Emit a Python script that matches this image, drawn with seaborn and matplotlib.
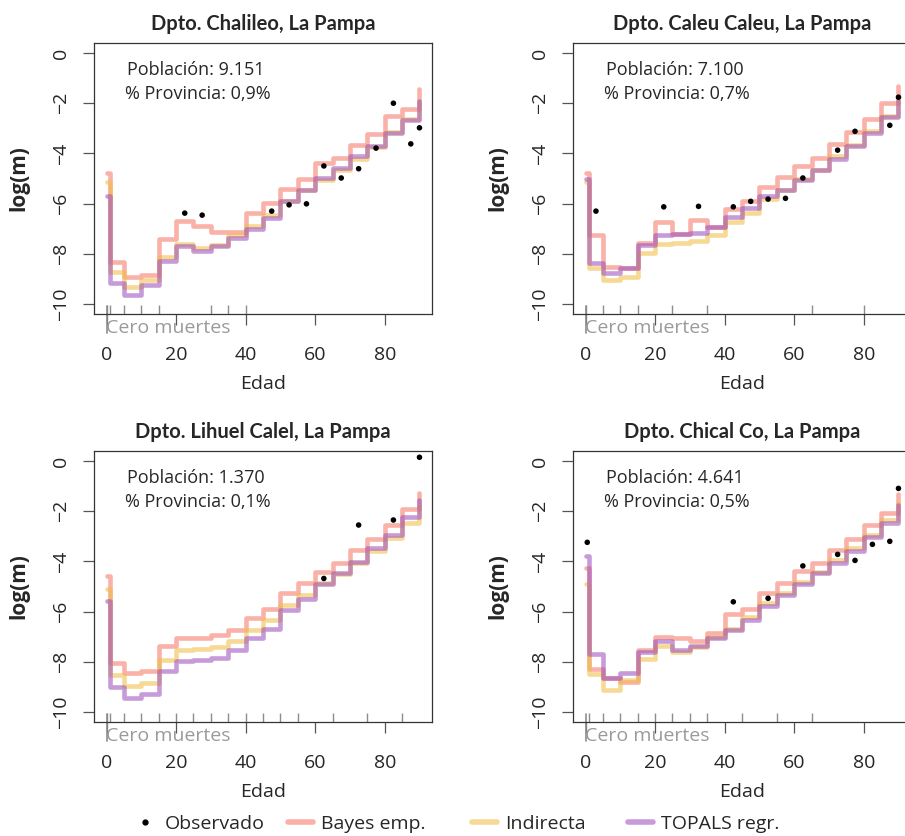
import matplotlib
matplotlib.use("Agg")
import matplotlib.pyplot as plt
import matplotlib.transforms as mtransforms
from matplotlib.lines import Line2D
import seaborn as sns

# age group starts (last one = 90+)
AGES = [0, 1, 5, 10, 15, 20, 25, 30, 35, 40, 45, 50, 55, 60, 65, 70, 75, 80, 85, 90]

# Dpto. Chalileo
CHALILEO_BAYES = [-4.78, -8.34, -8.91, -8.85, -7.42, -6.71, -6.91, -7.15, -7.14, -6.38,
                  -5.98, -5.41, -5.01, -4.38, -4.18, -3.68, -3.24, -2.52, -2.22, -1.45]
CHALILEO_INDIRECTA = [-5.15, -8.71, -9.33, -9.04, -8.11, -7.62, -7.78, -7.64, -7.24, -6.91,
                      -6.44, -5.91, -5.45, -5.05, -4.65, -4.21, -3.73, -3.14, -2.62, -1.98]
CHALILEO_TOPALS = [-5.71, -9.17, -9.64, -9.24, -8.27, -7.68, -7.87, -7.68, -7.38, -7.02,
                   -6.58, -5.91, -5.47, -4.98, -4.58, -4.11, -3.72, -3.18, -2.65, -1.92]
CHALILEO_OBS_EDAD = [22.5, 27.5, 47.5, 52.5, 57.5, 62.5, 67.5, 72.5, 77.5, 82.5, 87.5, 90]
CHALILEO_OBS = [-6.38, -6.46, -6.30, -6.05, -6.01, -4.50, -4.98, -4.61, -3.79, -2.00, -3.62, -2.98]
CHALILEO_CERO = [0, 1, 5, 10, 15, 30, 35, 40]

# Dpto. Caleu Caleu
CALEU_BAYES = [-4.78, -7.24, -8.51, -8.58, -7.58, -6.75, -7.22, -6.67, -6.95, -6.22,
               -5.91, -5.35, -4.94, -4.51, -4.18, -3.61, -3.14, -2.62, -2.01, -1.32]
CALEU_INDIRECTA = [-5.15, -8.58, -9.04, -8.91, -7.98, -7.62, -7.58, -7.51, -7.24, -6.75,
                   -6.38, -5.81, -5.45, -5.01, -4.65, -4.11, -3.68, -3.12, -2.52, -1.85]
CALEU_TOPALS = [-5.01, -8.38, -8.75, -8.58, -7.67, -7.24, -7.22, -7.18, -6.95, -6.54,
                -6.18, -5.69, -5.45, -5.05, -4.67, -4.22, -3.72, -3.18, -2.56, -1.92]
CALEU_OBS_EDAD = [3, 22.5, 32.5, 42.5, 47.5, 52.5, 57.5, 62.5, 72.5, 77.5, 87.5, 90]
CALEU_OBS = [-6.30, -6.13, -6.11, -6.13, -5.91, -5.82, -5.79, -4.98, -3.87, -3.12, -2.88, -1.76]
CALEU_CERO = [0, 5, 10, 15, 25, 35, 65, 80]

# Dpto. Lihuel Calel
LIHUEL_BAYES = [-4.59, -8.03, -8.43, -8.36, -7.37, -7.05, -7.05, -6.94, -6.72, -6.25,
                -5.90, -5.25, -4.88, -4.44, -4.06, -3.55, -3.09, -2.55, -1.93, -1.26]
LIHUEL_INDIRECTA = [-5.08, -8.54, -8.98, -8.84, -7.91, -7.54, -7.51, -7.43, -7.17, -6.74,
                    -6.34, -5.74, -5.35, -4.88, -4.51, -4.08, -3.58, -3.05, -2.46, -1.80]
LIHUEL_TOPALS = [-5.59, -9.00, -9.44, -9.30, -8.36, -7.98, -7.94, -7.85, -7.54, -7.07,
                 -6.68, -5.94, -5.51, -4.91, -4.48, -4.02, -3.46, -2.93, -2.25, -1.56]
LIHUEL_OBS_EDAD = [62.5, 72.5, 82.5, 90]
LIHUEL_OBS = [-4.68, -2.55, -2.35, 0.15]
LIHUEL_CERO = [0, 1, 5, 10, 15, 20, 25, 30, 35, 40, 45, 50, 55, 65, 75, 85]

# Dpto. Chical Co
CHICAL_BAYES = [-4.28, -8.27, -8.63, -8.80, -7.54, -7.01, -7.07, -7.17, -6.85, -6.08,
                -5.90, -5.24, -4.88, -4.37, -4.08, -3.55, -3.11, -2.55, -2.09, -1.33]
CHICAL_INDIRECTA = [-4.91, -8.47, -9.14, -8.74, -7.87, -7.38, -7.60, -7.41, -7.03, -6.68,
                    -6.21, -5.65, -5.25, -4.81, -4.41, -3.95, -3.48, -2.95, -2.35, -1.69]
CHICAL_TOPALS = [-3.79, -7.70, -8.63, -8.44, -7.61, -7.18, -7.54, -7.38, -7.07, -6.74,
                 -6.32, -5.78, -5.35, -4.92, -4.48, -4.06, -3.58, -3.02, -2.46, -1.76]
CHICAL_OBS_EDAD = [0.5, 42.5, 52.5, 62.5, 72.5, 77.5, 82.5, 87.5, 90]
CHICAL_OBS = [-3.24, -5.61, -5.47, -4.18, -3.72, -3.96, -3.32, -3.20, -1.09]
CHICAL_CERO = [1, 5, 10, 15, 20, 25, 30, 35, 45, 55, 65]

TITULOS = ["Dpto. Chalileo, La Pampa", "Dpto. Caleu Caleu, La Pampa",
           "Dpto. Lihuel Calel, La Pampa", "Dpto. Chical Co, La Pampa"]
POBLACION = ["9.151", "7.100", "1.370", "4.641"]
PCT_PROVINCIA = ["0,9%", "0,7%", "0,1%", "0,5%"]

SERIES = ["Bayes emp.", "Indirecta", "TOPALS regr."]
COLORES = ["#F5796A", "#F0BE48", "#A052BE"]
ALPHA = 0.58

panels = [
    (CHALILEO_BAYES, CHALILEO_INDIRECTA, CHALILEO_TOPALS, CHALILEO_OBS_EDAD, CHALILEO_OBS, CHALILEO_CERO),
    (CALEU_BAYES, CALEU_INDIRECTA, CALEU_TOPALS, CALEU_OBS_EDAD, CALEU_OBS, CALEU_CERO),
    (LIHUEL_BAYES, LIHUEL_INDIRECTA, LIHUEL_TOPALS, LIHUEL_OBS_EDAD, LIHUEL_OBS, LIHUEL_CERO),
    (CHICAL_BAYES, CHICAL_INDIRECTA, CHICAL_TOPALS, CHICAL_OBS_EDAD, CHICAL_OBS, CHICAL_CERO),
]

sns.set_style("white")
plt.rcParams["font.family"] = ["Open Sans", "DejaVu Sans"]

W, H = 905, 836
fig = plt.figure(figsize=(W / 100, H / 100), dpi=100)

# plot boxes in pixels (left, top); right column runs past the image edge
boxes = [(94, 43), (573, 43), (94, 451), (573, 451)]
bw, bh = 338, 271
FS_TICK = 14
FS_TXT = 13

for (left, top), data, titulo, pob, pct in zip(boxes, panels, TITULOS, POBLACION, PCT_PROVINCIA):
    bayes, indirecta, topals, obs_x, obs_y, cero = data
    ax = fig.add_axes([left / W, 1 - (top + bh) / H, bw / W, bh / H])

    for vals, color in zip([bayes, indirecta, topals], COLORES):
        sns.lineplot(x=AGES, y=vals, ax=ax, color=color, alpha=ALPHA, lw=3.3,
                     drawstyle="steps-post", sort=False, estimator=None,
                     legend=False, solid_capstyle="round")
    sns.scatterplot(x=obs_x, y=obs_y, ax=ax, color="black", s=16,
                    edgecolor="none", legend=False, zorder=5)
    sns.rugplot(x=cero, ax=ax, height=0.033, color="#8c8c8c", lw=1.2)

    trans = mtransforms.blended_transform_factory(ax.transData, ax.transAxes)
    ax.plot([0, 0], [0.03, -0.07], transform=trans, color="#8c8c8c", lw=1.2, clip_on=False)
    ax.text(-0.1, -0.05, "Cero muertes", transform=trans, ha="left", va="center",
            color="#9a9a9a", fontsize=FS_TICK)

    ax.text(0.098, 0.90, f"Población: {pob}", transform=ax.transAxes, ha="left",
            va="center", fontsize=FS_TXT)
    ax.text(0.092, 0.812, f"% Provincia: {pct}", transform=ax.transAxes, ha="left",
            va="center", fontsize=FS_TXT)

    ax.set_xlim(-3.6, 93.6)
    ax.set_ylim(-10.4, 0.4)
    ax.set_xticks([0, 20, 40, 60, 80])
    ax.set_yticks([0, -2, -4, -6, -8, -10])
    for lab in ax.get_yticklabels():
        lab.set_rotation(90)
        lab.set_va("center")
    ax.tick_params(axis="both", which="both", direction="out", length=8, width=0.9,
                   color="#555555", labelsize=FS_TICK, bottom=True, left=True)
    ax.tick_params(axis="x", pad=15)
    ax.tick_params(axis="y", pad=9)
    for sp in ax.spines.values():
        sp.set_color("#333333")
        sp.set_linewidth(0.9)

    ax.set_title(titulo, fontweight="bold", fontsize=14.5, pad=9,
                 fontfamily=["Lato", "DejaVu Sans"])
    ax.set_xlabel("Edad", fontsize=14)
    ax.set_ylabel("log(m)", fontweight="bold", fontsize=15)
    ax.xaxis.set_label_coords(0.5, -0.225)
    ax.yaxis.set_label_coords(-0.19, 0.5)

# legend, one entry per block to keep the original spacing
ly = 1 - 824 / H
entradas = [
    (Line2D([], [], marker="o", ls="none", color="black", markersize=3.5), "Observado", 132),
]
for serie, color, x0 in zip(SERIES, COLORES, [288, 472, 628]):
    entradas.append((Line2D([], [], color=color, alpha=ALPHA, lw=4, solid_capstyle="round"), serie, x0))
for handle, label, x0 in entradas:
    fig.legend([handle], [label], loc="center left", bbox_to_anchor=(x0 / W, ly),
               frameon=False, fontsize=FS_TICK, handlelength=1.3, handletextpad=0.4,
               borderpad=0, borderaxespad=0)

fig.savefig("out.png", dpi=100)
